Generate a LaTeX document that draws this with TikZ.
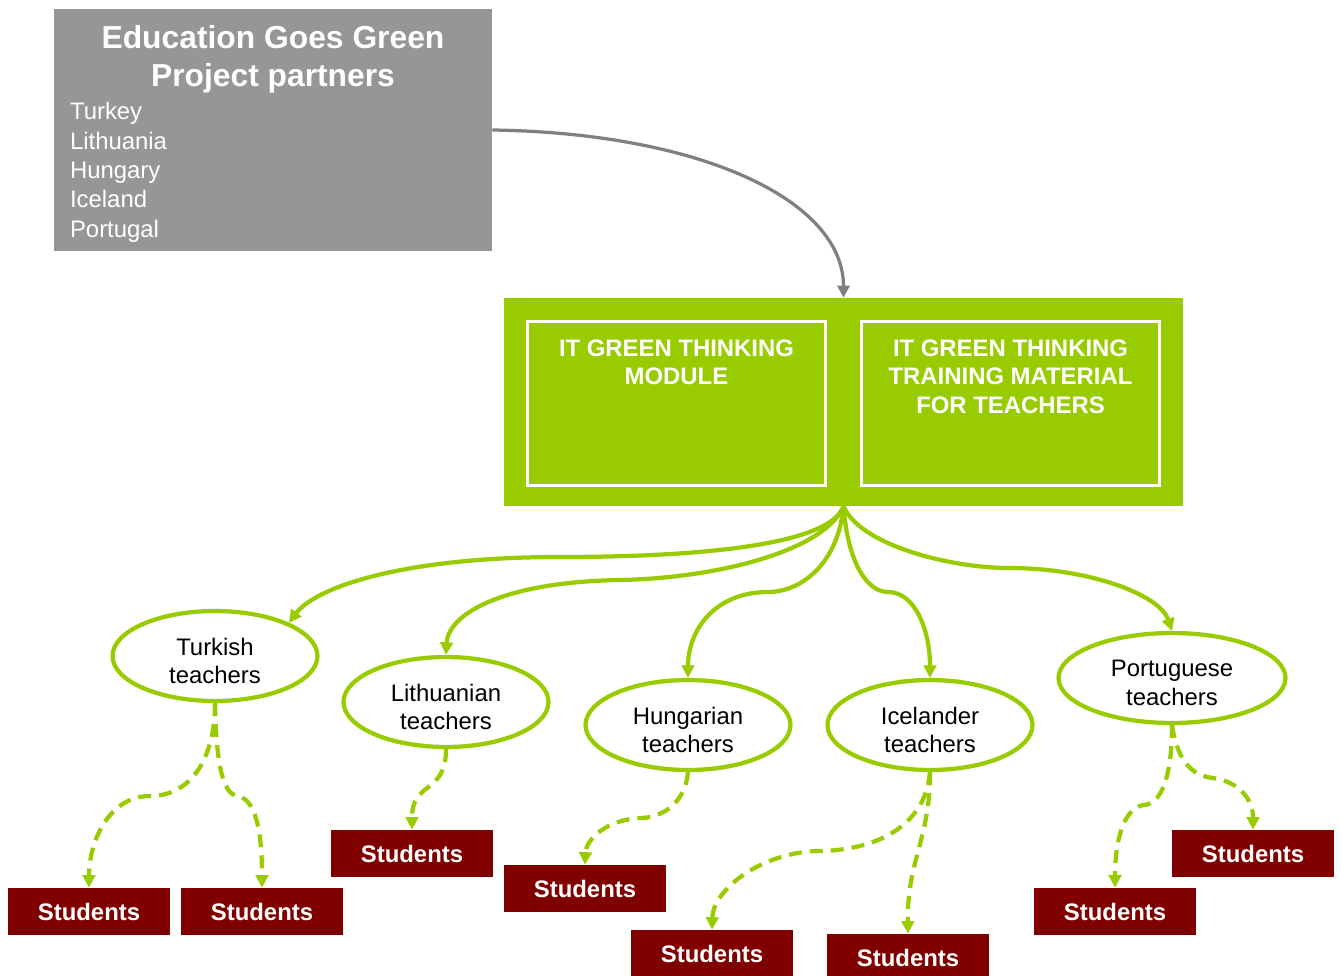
\documentclass[tikz,border=0pt]{standalone}
\usepackage{fontspec}
\setmainfont{Liberation Sans}
\usetikzlibrary{arrows.meta,shapes.geometric,positioning}
\definecolor{egGreen}{RGB}{153,204,0}
\definecolor{egGray}{RGB}{150,150,150}
\definecolor{egArrow}{RGB}{128,128,128}
\definecolor{egRed}{RGB}{128,0,0}

\begin{document}
\begin{tikzpicture}[
  x=0.02cm, y=-0.02cm,
  partner/.style={fill=egGray, minimum width=8.76cm, minimum height=4.84cm, inner sep=0pt},
  ptitle/.style ={text=white, font=\fontsize{18.1pt}{22.1pt}\selectfont\bfseries, align=center, inner sep=0pt},
  plist/.style  ={text=white, font=\fontsize{13.6pt}{16.7pt}\selectfont, align=left, inner sep=0pt, anchor=north west},
  prod/.style   ={fill=egGreen, minimum width=13.58cm, minimum height=4.16cm, inner sep=0pt},
  modbox/.style ={draw=white, line width=0.6mm, minimum width=5.96cm, minimum height=3.28cm, inner sep=0pt},
  modtxt/.style ={text=white, font=\fontsize{13.6pt}{16.44pt}\selectfont\bfseries, align=center, inner sep=0pt},
  teach/.style  ={ellipse, draw=egGreen, line width=0.85mm, fill=white, minimum width=4.1cm,
                  minimum height=1.8cm, inner sep=0pt},
  tlab/.style   ={align=center, inner sep=0pt, yshift=-0.1cm, font=\fontsize{13.6pt}{16.44pt}\selectfont},
  stud/.style   ={fill=egRed, text=white, minimum width=3.24cm, minimum height=0.94cm, inner sep=0pt,
                  font=\fontsize{13.6pt}{16.44pt}\selectfont\bfseries},
  feed/.style   ={-{Triangle[length=2.4mm,width=2.4mm]}, line width=0.65mm, draw=egArrow},
  flow/.style   ={-{Triangle[length=2.5mm,width=2.5mm]}, line width=0.85mm, draw=egGreen},
  reach/.style  ={flow, dash pattern=on 2.6mm off 1.6mm},
]
\useasboundingbox (0,0) rectangle (1341,976);

% ================= PARTNERS =================
\node[partner] (partners) at (273,130) {};
\node[ptitle, below=0.32cm of partners.north] (ptitle) {Education Goes Green\\Project partners};
\node[plist, below right=1.87cm and 0.32cm of partners.north west] (plist)
  {Turkey\\Lithuania\\Hungary\\Iceland\\Portugal};

% ================= PRODUCTS =================
\node[prod] (prod) at (843.5,402) {};
\node[modbox] (modL) at (676.5,403.5) {};
\node[modbox] (modR) at (1010.5,403.5) {};
\node[modtxt, below=0.38cm of modL.north] (modLt) {IT GREEN THINKING\\MODULE};
\node[modtxt, below=0.38cm of modR.north] (modRt) {IT GREEN THINKING\\TRAINING MATERIAL\\FOR TEACHERS};

\draw[feed] (partners.east) .. controls (700,133) and (843.5,200) .. (prod.north);

% ================= TEACHERS =================
\node[teach, label={[tlab]center:Turkish\\teachers}]    (turk) at (215,656) {};
\node[teach, label={[tlab]center:Lithuanian\\teachers}] (lith) at (446,702) {};
\node[teach, label={[tlab]center:Hungarian\\teachers}]  (hung) at (688,725) {};
\node[teach, label={[tlab]center:Icelander\\teachers}]  (ice)  at (930,725) {};
\node[teach, minimum width=4.54cm, label={[tlab]center:Portuguese\\teachers}] (port) at (1172,678) {};

\draw[flow] (prod.south) .. controls (830,545) and (700,557) .. (560,557)
  .. controls (400,557) and (315,588) .. (turk.north east);
\draw[flow] (prod.south) .. controls (825,550) and (720,578) .. (620,580)
  .. controls (500,582) and (448,615) .. (lith.north);
\draw[flow] (prod.south) .. controls (838,565) and (800,592) .. (768,592)
  .. controls (715,592) and (688,630) .. (hung.north);
\draw[flow] (prod.south) .. controls (848,565) and (868,592) .. (888,592)
  .. controls (915,592) and (930,630) .. (ice.north);
\draw[flow] (prod.south) .. controls (860,545) and (950,568) .. (1009,568)
  .. controls (1090,568) and (1160,595) .. (port.north);

% ================= STUDENTS =================
\node[stud] (s1) at (89,911.5)   {Students};
\node[stud] (s2) at (262,911.5)  {Students};
\node[stud] (s3) at (412,853.5)  {Students};
\node[stud] (s4) at (585,888.5)  {Students};
\node[stud] (s5) at (712,953.5)  {Students};
\node[stud] (s6) at (908,957.5)  {Students};
\node[stud] (s7) at (1253,853.5) {Students};
\node[stud] (s8) at (1115,911.5) {Students};

\draw[reach] (turk.south) .. controls (215,760) and (190,796) .. (150,796)
  .. controls (110,796) and (89,840) .. (s1.north);
\draw[reach] (turk.south) .. controls (216,760) and (222,795) .. (238,796)
  .. controls (258,800) and (262,840) .. (s2.north);
\draw[reach] (lith.south) .. controls (446,795) and (412,780) .. (s3.north);
\draw[reach] (hung.south) .. controls (685,805) and (660,818) .. (640,818)
  .. controls (605,820) and (586,840) .. (s4.north);
\draw[reach] (ice.south) .. controls (925,830) and (870,851) .. (817,851)
  .. controls (760,853) and (713,890) .. (s5.north);
\draw[reach] (ice.south) .. controls (930,840) and (907,860) .. (s6.north);
\draw[reach] (port.south) .. controls (1172,780) and (1160,805) .. (1143,805)
  .. controls (1120,810) and (1115,850) .. (s8.north);
\draw[reach] (port.south) .. controls (1178,765) and (1195,776) .. (1213,778)
  .. controls (1240,782) and (1253,800) .. (s7.north);

\end{tikzpicture}
\end{document}
